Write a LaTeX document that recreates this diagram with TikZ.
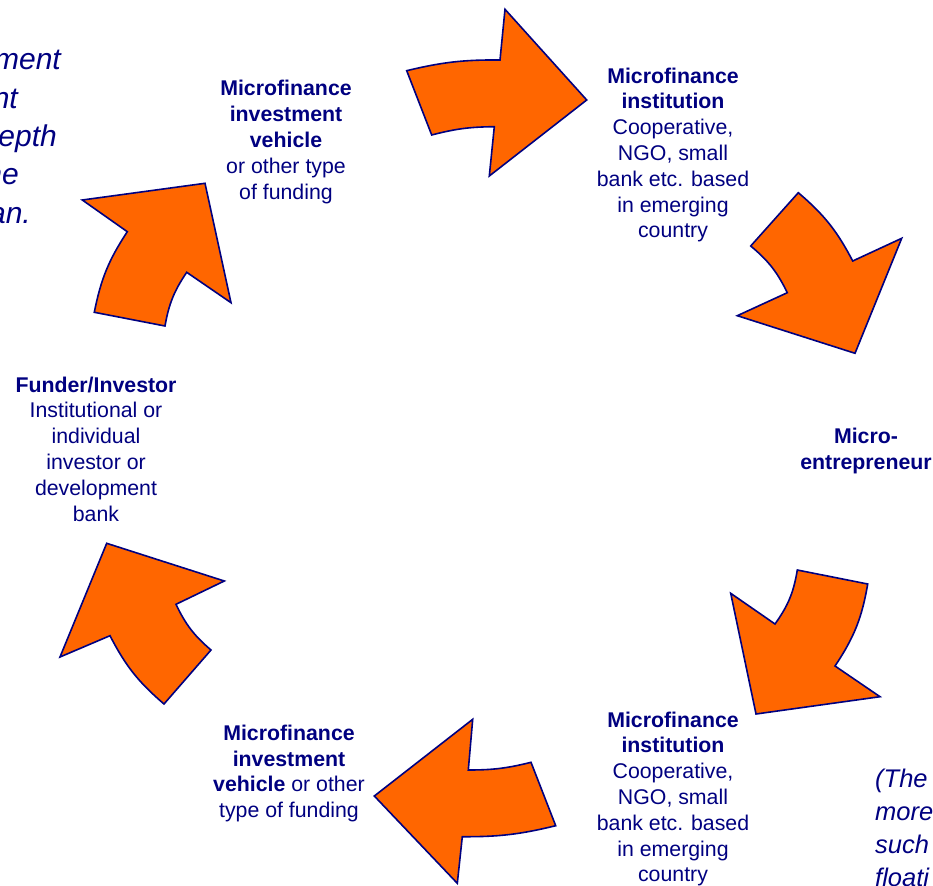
\documentclass[tikz,border=0pt]{standalone}
\usepackage{fontspec}
\setmainfont{Liberation Sans}
\definecolor{ink}{RGB}{0,0,128}
\definecolor{flow}{RGB}{255,102,0}
\begin{document}
\begin{tikzpicture}[x=1pt,y=-1pt,
  flowarrow/.style={fill=flow, draw=ink, line width=1.6pt, line join=miter},
  txt/.style={text=ink, align=center, inner sep=0pt,
    font=\fontsize{21.3}{25.8}\selectfont},
  noteL/.style={text=ink, inner sep=0pt, anchor=base east,
    font=\itshape\fontsize{30}{38.5}\selectfont},
  noteR/.style={text=ink, inner sep=0pt, anchor=base west,
    font=\itshape\fontsize{25.5}{33}\selectfont}]
\useasboundingbox (0,0) rectangle (933,885);
\begin{scope}
\clip (0,0) rectangle (933,885);

% cycle of block arrows
\path[flowarrow] (406.7,70.7) to[bend left=7] (500,60) -- (505,9.3) -- (586.7,100)
  -- (489.3,176) -- (494.3,126.7) to[bend right=7] (431.7,135) -- cycle;
\path[flowarrow] (798.3,192.7) to[bend left=11] (852.7,261) -- (901.7,238.3) -- (855,353.3)
  -- (737.3,315.7) -- (787.3,292.7) to[bend right=12] (750.7,246) -- cycle;
\path[flowarrow] (775,624) to[bend right=13] (797.3,570) -- (867.7,584)
  to[bend left=12] (835,666) -- (880,696.7) -- (756,714) -- (730.7,593.3) -- cycle;
\path[flowarrow] (374.3,796) -- (472.7,719.3) -- (468.3,770) to[bend right=7] (531,762.3)
  -- (555.7,825.7) to[bend left=7] (462.3,836.7) -- (457.3,883.3) -- cycle;
\path[flowarrow] (106.7,543.3) -- (224.3,581) -- (176,604.3) to[bend right=12] (211,650)
  -- (164,704) to[bend left=11] (110,635.7) -- (60,657) -- cycle;
\path[flowarrow] (82.3,200) -- (205,183.3) -- (231,302.7) -- (186.7,272.3)
  to[bend right=12] (165,326) -- (94.3,312.3) to[bend left=11] (127.3,231.7) -- cycle;

% stations of the funding cycle
\node[txt] (mivtop) at (286,142) {\textbf{Microfinance}\\\textbf{investment}\\\textbf{vehicle}\\or other type\\of funding};
\node[txt] (mfitop) at (673,155) {\textbf{Microfinance}\\\textbf{institution}\\Cooperative,\\NGO, small\\bank etc. based\\in emerging\\country};
\node[txt] (micro) at (866,451) {\textbf{Micro-}\\\textbf{entrepreneur}};
\node[txt] (funder) at (96,449) {\textbf{Funder/Investor}\\Institutional or\\individual\\investor or\\development\\bank};
\node[txt] (mivbot) at (289,773.5) {\textbf{Microfinance}\\\textbf{investment}\\\textbf{vehicle} or other\\type of funding};
\node[txt] (mfibot) at (673,799) {\textbf{Microfinance}\\\textbf{institution}\\Cooperative,\\NGO, small\\bank etc. based\\in emerging\\country};

% side notes running off the page
\node[noteL] (nl1) at (61,70) {ment};
\node[noteL] (nl2) at (18,108.5) {nt};
\node[noteL] (nl3) at (57,147) {epth};
\node[noteL] (nl4) at (19,185) {he};
\node[noteL] (nl5) at (31,223.5) {an.};

\node[noteR] (nr1) at (875,787) {(The};
\node[noteR] (nr2) at (875,820) {more};
\node[noteR] (nr3) at (875,853) {such};
\node[noteR] (nr4) at (875,886) {floati};
\end{scope}
\end{tikzpicture}
\end{document}
